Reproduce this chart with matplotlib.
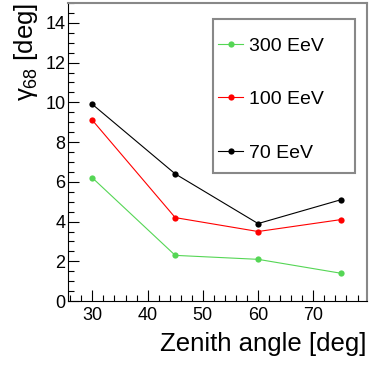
import matplotlib
matplotlib.use("Agg")
import matplotlib.pyplot as plt
from matplotlib.patches import Rectangle
from matplotlib.ticker import MultipleLocator

# data
zenith = [30, 45, 60, 75]
gamma_300 = [6.2, 2.3, 2.1, 1.4]
gamma_100 = [9.1, 4.2, 3.5, 4.1]
gamma_70 = [9.9, 6.4, 3.9, 5.1]

series = [
    ("300 EeV", gamma_300, "#55d655"),
    ("100 EeV", gamma_100, "#ff0000"),
    ("70 EeV", gamma_70, "#000000"),
]

plt.rcParams["font.family"] = ["Liberation Sans", "DejaVu Sans"]
plt.rcParams["mathtext.fontset"] = "custom"
plt.rcParams["mathtext.rm"] = "Liberation Sans"
plt.rcParams["mathtext.it"] = "Liberation Sans"

fig = plt.figure(figsize=(3.74, 3.74), dpi=100)
ax = fig.add_axes([0.182, 0.195, 0.799, 0.797])

for label, values, color in series:
    ax.plot(zenith, values, '-o', color=color, lw=0.8, markersize=4.5,
            markeredgewidth=0, label=label)

ax.set_xlim(25.6, 79.7)
ax.set_ylim(0, 15)

ax.xaxis.set_major_locator(MultipleLocator(10))
ax.xaxis.set_minor_locator(MultipleLocator(2))
ax.yaxis.set_major_locator(MultipleLocator(2))
ax.yaxis.set_minor_locator(MultipleLocator(0.5))
ax.tick_params(which="both", direction="in", top=False, right=False,
               labelsize=13, width=0.8)
ax.tick_params(which="major", length=8)
ax.tick_params(which="minor", length=4)
ax.tick_params(axis="x", which="major", pad=4)
ax.tick_params(axis="y", which="major", pad=2)

for side in ["left", "bottom"]:
    ax.spines[side].set_color("black")
    ax.spines[side].set_linewidth(0.8)
for side in ["top", "right"]:
    ax.spines[side].set_color("#888888")
    ax.spines[side].set_linewidth(1.5)

ax.set_xlabel("Zenith angle [deg]", fontsize=18.5, loc="right", labelpad=6)
ax.set_ylabel(r"$\gamma_{68}$ [deg]", fontsize=18.5, loc="top", labelpad=4)

# legend box drawn separately, entries placed inside it
ax.add_patch(Rectangle((0.485, 0.43), 0.475, 0.516, transform=ax.transAxes,
                       facecolor="white", edgecolor="#888888", lw=1.5,
                       zorder=4))
leg = ax.legend(loc="upper left", bbox_to_anchor=(0.502, 0.885),
                fontsize=14, labelspacing=1.84, handlelength=1.3,
                handletextpad=0.28, borderpad=0, borderaxespad=0,
                frameon=False)
leg.set_zorder(5)

fig.savefig("out.png", dpi=100)
